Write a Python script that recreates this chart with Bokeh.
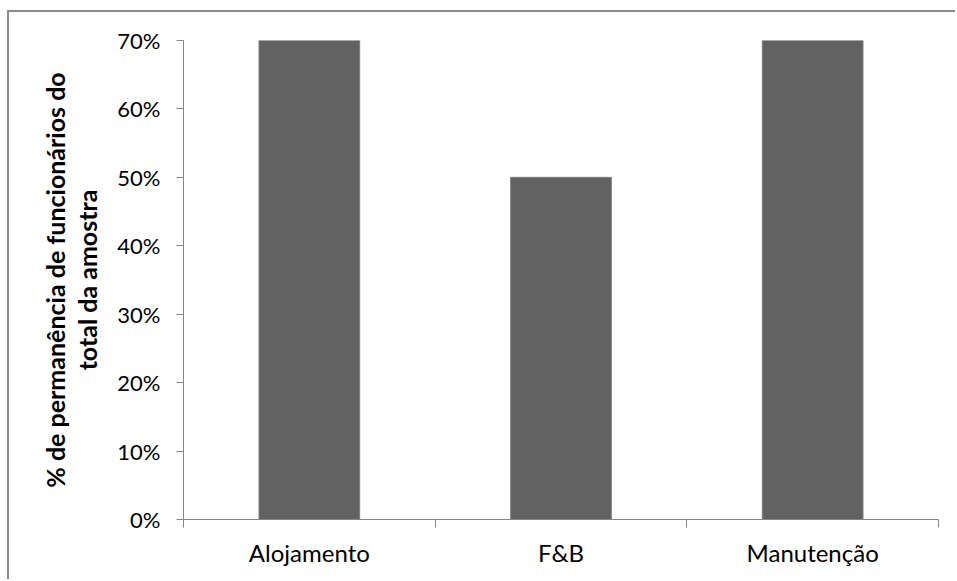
from bokeh.embed import file_html
from bokeh.resources import INLINE
from bokeh.plotting import figure
from bokeh.models import (ColumnDataSource, FixedTicker, NumeralTickFormatter, Range1d)

# Share of staff who stayed, by department
categories = ["Alojamento", "F&B", "Manutenção"]
values = [0.70, 0.50, 0.70]
y_ticks = [0.0, 0.1, 0.2, 0.3, 0.4, 0.5, 0.6, 0.7]
y_title = "% de permanência de funcionários do\ntotal da amostra"

FONT = "Lato"
AXIS_GREY = "#868686"
BAR_GREY = "#626262"

centers = [i + 0.5 for i in range(len(categories))]
source = ColumnDataSource(data=dict(x=centers, top=values, cat=categories))

p = figure(width=948, height=569, output_backend="svg", toolbar_location=None,
           x_range=Range1d(0, len(categories)), y_range=Range1d(0, 0.7),
           min_border_left=174, min_border_right=19,
           min_border_top=28, min_border_bottom=62)

# thin grey frame around the chart area (left and top edges)
p.styles = {"margin-left": "7px", "margin-top": "10px",
            "border-left": "2px solid #8c8c8c", "border-top": "2px solid #8c8c8c"}

p.vbar(x="x", top="top", width=0.4, source=source,
       fill_color=BAR_GREY, line_color="#7c7c7c", line_width=1)

p.grid.visible = False
p.outline_line_color = None
p.background_fill_color = "white"
p.border_fill_color = "white"

# x axis: labels under each bar, ticks on category boundaries
xa = p.xaxis[0]
xa.ticker = FixedTicker(ticks=centers, minor_ticks=list(range(len(categories) + 1)))
xa.major_label_overrides = {c: name for c, name in zip(centers, categories)}
xa.major_tick_out = 0
xa.major_tick_in = 0
xa.minor_tick_out = 8
xa.minor_tick_in = 0
xa.minor_tick_line_color = AXIS_GREY
xa.axis_line_color = AXIS_GREY
xa.major_label_text_font = FONT
xa.major_label_text_font_size = "24px"
xa.major_label_text_color = "#000000"
xa.major_label_standoff = 10

# y axis: percentages, two-line bold title
ya = p.yaxis[0]
ya.ticker = FixedTicker(ticks=y_ticks, minor_ticks=[])
ya.formatter = NumeralTickFormatter(format="0%")
ya.major_tick_out = 7
ya.major_tick_in = 0
ya.major_tick_line_color = AXIS_GREY
ya.axis_line_color = AXIS_GREY
ya.major_label_text_font = FONT
ya.major_label_text_font_size = "22px"
ya.major_label_text_color = "#000000"
ya.major_label_standoff = 16
ya.axis_label = y_title
ya.axis_label_text_font = FONT
ya.axis_label_text_font_style = "bold"
ya.axis_label_text_font_size = "25px"
ya.axis_label_text_line_height = 1.08
ya.axis_label_text_color = "#000000"
ya.axis_label_standoff = 12

open("out.html", "w").write(file_html(p, INLINE))
